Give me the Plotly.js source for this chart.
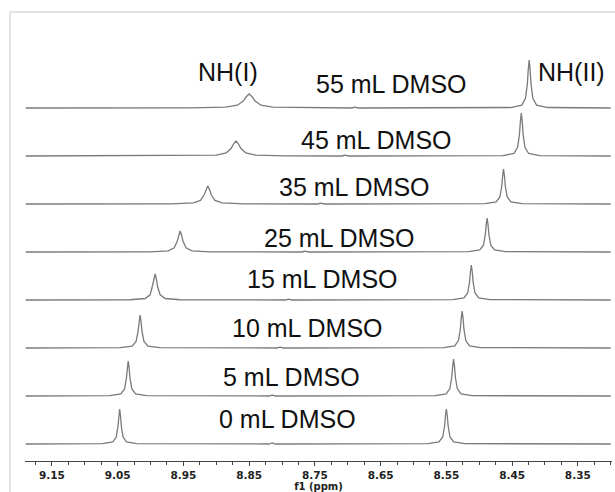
<!DOCTYPE html>
<html>
<head>
<meta charset="utf-8">
<script src="https://cdn.plot.ly/plotly-3.0.1.min.js"></script>
<style>html,body{margin:0;padding:0;background:#fff;}#chart{width:615px;height:492px;}</style>
</head>
<body>
<div id="chart"></div>
<script>
// Sample labels (bottom to top)
var sampleLabels = ["0 mL DMSO", "5 mL DMSO", "10 mL DMSO", "15 mL DMSO", "25 mL DMSO", "35 mL DMSO", "45 mL DMSO", "55 mL DMSO"];
var peakLabels = ["NH(I)", "NH(II)"];
var tickValues = [9.15, 9.05, 8.95, 8.85, 8.75, 8.65, 8.55, 8.45, 8.35];
var tickLabels = ["9.15", "9.05", "8.95", "8.85", "8.75", "8.65", "8.55", "8.45", "8.35"];

// Spectra (ppm, intensity)
var ppm_0 = [9.19, 9.073, 9.0574, 9.0522, 9.0496, 9.0483, 9.047, 9.0457, 9.0444, 9.0418, 9.0366, 9.021, 8.820, 8.815, 8.810, 8.578, 8.5612, 8.5556, 8.5528, 8.5514, 8.550, 8.5486, 8.5472, 8.5444, 8.5388, 8.522, 8.30];
var int_0 = [0, 0.35, 2.1, 7, 17.5, 28, 35, 28, 17.5, 7, 2.1, 0.35, 0, 1, 0, 0.35, 2.1, 7, 17.5, 28, 35, 28, 17.5, 7, 2.1, 0.35, 0];

var ppm_5 = [9.19, 9.062, 9.0452, 9.0396, 9.0368, 9.0354, 9.034, 9.0326, 9.0312, 9.0284, 9.0228, 9.006, 8.820, 8.815, 8.810, 8.567, 8.5502, 8.5446, 8.5418, 8.5404, 8.539, 8.5376, 8.5362, 8.5334, 8.5278, 8.511, 8.30];
var int_5 = [0, 0.35, 2.1, 7, 17.5, 28, 35, 28, 17.5, 7, 2.1, 0.35, 0, 0.8, 0, 0.37, 2.2, 7.4, 18.5, 29.6, 37, 29.6, 18.5, 7.4, 2.2, 0.37, 0];

var ppm_10 = [9.19, 9.046, 9.028, 9.022, 9.019, 9.0175, 9.016, 9.0145, 9.013, 9.010, 9.004, 8.986, 8.808, 8.803, 8.798, 8.554, 8.5372, 8.5316, 8.5288, 8.5274, 8.526, 8.5246, 8.5232, 8.5204, 8.5148, 8.498, 8.30];
var int_10 = [0, 0.33, 1.9, 6.6, 16.5, 26.4, 33, 26.4, 16.5, 6.6, 1.9, 0.33, 0, 0.8, 0, 0.37, 2.2, 7.4, 18.5, 29.6, 37, 29.6, 18.5, 7.4, 2.2, 0.37, 0];

var ppm_15 = [9.19, 9.031, 9.0082, 9.0006, 8.9968, 8.9949, 8.993, 8.9911, 8.9892, 8.9854, 8.9778, 8.955, 8.795, 8.790, 8.785, 8.540, 8.5232, 8.5176, 8.5148, 8.5134, 8.512, 8.5106, 8.5092, 8.5064, 8.5008, 8.484, 8.30];
var int_15 = [0, 0.26, 1.5, 5.2, 15, 21.5, 26, 20.8, 13, 5.2, 1.5, 0.26, 0, 0.8, 0, 0.35, 2.1, 7, 17.5, 28, 35, 28, 17.5, 7, 2.1, 0.35, 0];

var ppm_25 = [9.19, 9.000, 8.973, 8.964, 8.9595, 8.9573, 8.955, 8.9528, 8.9505, 8.946, 8.937, 8.910, 8.770, 8.765, 8.760, 8.516, 8.4992, 8.4936, 8.4908, 8.4894, 8.488, 8.4866, 8.4852, 8.4824, 8.4768, 8.460, 8.30];
var int_25 = [0, 0.21, 1.2, 4.2, 10.5, 16.8, 21, 16.8, 10.5, 4.2, 1.2, 0.21, 0, 0.8, 0, 0.34, 2.0, 6.8, 17, 27.2, 34, 27.2, 17, 6.8, 2.0, 0.34, 0];

var ppm_35 = [9.19, 8.968, 8.935, 8.924, 8.9185, 8.9158, 8.913, 8.9103, 8.9075, 8.902, 8.891, 8.858, 8.746, 8.741, 8.736, 8.491, 8.4742, 8.4686, 8.4658, 8.4644, 8.463, 8.4616, 8.4602, 8.4574, 8.4518, 8.435, 8.30];
var int_35 = [0, 0.18, 1.1, 3.6, 9, 14.4, 18, 14.4, 9, 3.6, 1.1, 0.18, 0, 0.8, 0, 0.35, 2.1, 7, 17.5, 28, 35, 28, 17.5, 7, 2.1, 0.35, 0];

var ppm_45 = [9.19, 8.945, 8.900, 8.885, 8.8775, 8.8738, 8.870, 8.8663, 8.8625, 8.855, 8.840, 8.795, 8.709, 8.704, 8.699, 8.464, 8.4472, 8.4416, 8.4388, 8.4374, 8.436, 8.4346, 8.4332, 8.4304, 8.4248, 8.408, 8.30];
var int_45 = [0, 0.15, 0.9, 3, 7.5, 12, 15, 12, 7.5, 3, 0.9, 0.15, 0, 0.8, 0, 0.43, 2.5, 8.6, 21.5, 34.4, 43, 34.4, 21.5, 8.6, 2.5, 0.43, 0];

var ppm_55 = [9.19, 9.106, 9.101, 9.096, 8.940, 8.886, 8.868, 8.859, 8.8545, 8.850, 8.8455, 8.841, 8.832, 8.814, 8.760, 8.694, 8.689, 8.684, 8.452, 8.4352, 8.4296, 8.4268, 8.4254, 8.424, 8.4226, 8.4212, 8.4184, 8.4128, 8.396, 8.30];
var int_55 = [0, 0, 0.6, 0, 0.14, 0.8, 2.8, 7, 11.2, 14, 11.2, 7, 2.8, 0.8, 0.14, 0, 0.8, 0, 0.48, 2.9, 9.6, 24, 38.4, 48, 38.4, 24, 9.6, 2.9, 0.48, 0];

var spectraPpm = [ppm_0, ppm_5, ppm_10, ppm_15, ppm_25, ppm_35, ppm_45, ppm_55];
var spectraInt = [int_0, int_5, int_10, int_15, int_25, int_35, int_45, int_55];

// Layout-only settings
var stackStep = 48;
var labelPos = [[8.791, 25], [8.786, 67], [8.761, 116], [8.739, 165], [8.713, 206], [8.689, 257], [8.657, 304], [8.634, 360]];
var peakLabelPos = [[8.882, 372], [8.359, 372]];

var traces = spectraPpm.map(function (xs, i) {
  return {
    x: xs,
    y: spectraInt[i].map(function (v) { return v + i * stackStep; }),
    type: 'scatter', mode: 'lines',
    line: {color: '#7a7a7a', width: 1.3},
    hoverinfo: 'skip', showlegend: false
  };
});

var labelFont = {family: 'Liberation Sans, Arial, sans-serif', size: 25, color: '#111'};
var annotations = sampleLabels.map(function (t, i) {
  return {x: labelPos[i][0], y: labelPos[i][1], xref: 'x', yref: 'y', text: t, showarrow: false, font: labelFont, xanchor: 'center', yanchor: 'middle'};
});
peakLabels.forEach(function (t, i) {
  annotations.push({x: peakLabelPos[i][0], y: peakLabelPos[i][1], xref: 'x', yref: 'y', text: t, showarrow: false, font: labelFont, xanchor: 'center', yanchor: 'middle'});
});

var layout = {
  width: 615, height: 492,
  margin: {l: 25, r: 3, t: 12, b: 31, pad: 0},
  paper_bgcolor: '#fff', plot_bgcolor: '#fff',
  showlegend: false,
  xaxis: {
    range: [9.191, 8.298], autorange: false,
    showgrid: false, zeroline: false,
    showline: true, linecolor: '#444', linewidth: 1,
    ticks: 'outside', ticklen: 4, tickcolor: '#444', tickwidth: 1,
    tickmode: 'array', tickvals: tickValues, ticktext: tickLabels,
    tickfont: {family: 'DejaVu Sans, Verdana, sans-serif', size: 10.5, color: '#222', weight: 'bold'},
    minor: {tickmode: 'linear', tick0: 9.15, dtick: 0.025, ticks: 'outside', ticklen: 3, tickcolor: '#444', showgrid: false},
    title: {text: 'f1 (ppm)', standoff: 2, font: {family: 'DejaVu Sans, Verdana, sans-serif', size: 10, color: '#222', weight: 'bold'}}
  },
  yaxis: {
    range: [-17, 432], autorange: false,
    visible: false, showgrid: false, zeroline: false
  },
  annotations: annotations,
  shapes: [
    {type: 'line', xref: 'paper', yref: 'paper', x0: -0.0256, x1: 1.01, y0: 1, y1: 1, line: {color: '#e2e2e2', width: 2}},
    {type: 'line', xref: 'paper', yref: 'paper', x0: -0.0256, x1: -0.0256, y0: 1, y1: -0.07, line: {color: '#e2e2e2', width: 2}}
  ]
};

Plotly.newPlot('chart', traces, layout, {displayModeBar: false, staticPlot: true});
</script>
</body>
</html>
